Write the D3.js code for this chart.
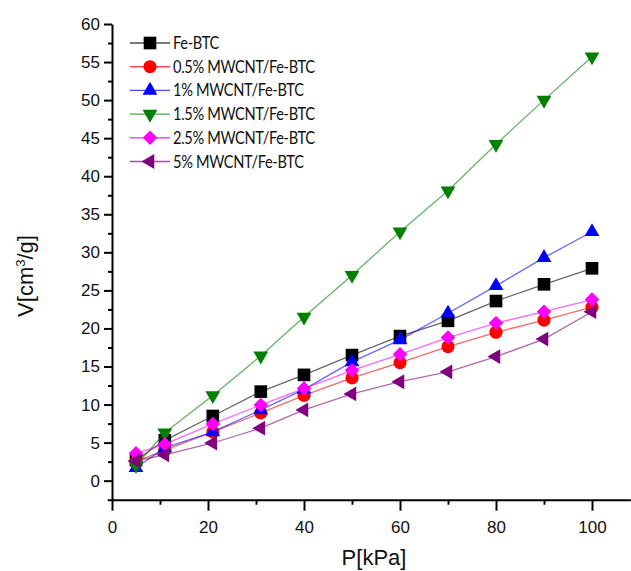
<!DOCTYPE html>
<html>
<head>
<meta charset="utf-8">
<script src="https://cdn.jsdelivr.net/npm/d3@7/dist/d3.min.js"></script>
<style>
  html, body { margin: 0; padding: 0; background: #fff; }
  svg { display: block; }
</style>
</head>
<body>
<svg id="chart" width="631" height="571"></svg>
<script>
// ---------- data ----------
const pressure = [5, 11, 21, 31, 40, 50, 60, 70, 80, 90, 100];
const seriesNames = ["Fe-BTC", "0.5% MWCNT/Fe-BTC", "1% MWCNT/Fe-BTC", "1.5% MWCNT/Fe-BTC", "2.5% MWCNT/Fe-BTC", "5% MWCNT/Fe-BTC"];
const feBTC      = [2.7, 5.3, 8.5, 11.7, 13.9, 16.5, 19.0, 21.0, 23.6, 25.8, 27.9];
const mwcnt05    = [2.5, 4.0, 6.4, 8.9, 11.2, 13.5, 15.5, 17.6, 19.5, 21.1, 22.8];
const mwcnt1     = [1.7, 4.3, 6.4, 9.3, 12.0, 15.6, 18.5, 22.0, 25.6, 29.3, 32.7];
const mwcnt15    = [2.0, 6.3, 11.2, 16.4, 21.5, 27.0, 32.7, 38.1, 44.2, 50.0, 55.7];
const mwcnt25    = [3.6, 4.8, 7.45, 9.95, 12.1, 14.5, 16.6, 18.8, 20.7, 22.2, 23.8];
const mwcnt5     = [2.6, 3.4, 4.95, 6.9, 9.3, 11.4, 13.0, 14.3, 16.3, 18.6, 22.2];
const seriesValues = [feBTC, mwcnt05, mwcnt1, mwcnt15, mwcnt25, mwcnt5];
const xMajorTicks = [0, 20, 40, 60, 80, 100];
const xMinorTicks = [10, 30, 50, 70, 90];
const yMajorTicks = [0, 5, 10, 15, 20, 25, 30, 35, 40, 45, 50, 55, 60];
const yMinorTicks = [2.5, 7.5, 12.5, 17.5, 22.5, 27.5, 32.5, 37.5, 42.5, 47.5, 52.5, 57.5];
const xTitle = "P[kPa]";

// ---------- styles ----------
const colors = ["#000000", "#ff0000", "#0000ff", "#008000", "#ff00ff", "#800080"];
const symbols = [
  { type: d3.symbolSquare, size: 160, rotate: 0 },
  { type: d3.symbolCircle, size: 135, rotate: 0 },
  { type: d3.symbolTriangle, size: 95, rotate: 0 },
  { type: d3.symbolTriangle, size: 95, rotate: 180 },
  { type: d3.symbolSquare, size: 105, rotate: 45 },
  { type: d3.symbolTriangle, size: 95, rotate: -90 }
];

const svg = d3.select("#chart");
const x = d3.scaleLinear().domain([-1, 108]).range([107.2, 630.4]);
const y = d3.scaleLinear().domain([-2.5, 60]).range([499.7, 24]);
const axisFont = "'Liberation Sans', Arial, sans-serif";

// ---------- axes ----------
const gx = svg.append("g").attr("transform", `translate(0,${y(-2.5)})`);
gx.call(d3.axisBottom(x).tickValues(xMajorTicks).tickSize(11).tickSizeOuter(0).tickPadding(10));
const gxm = svg.append("g").attr("transform", `translate(0,${y(-2.5)})`);
gxm.call(d3.axisBottom(x).tickValues(xMinorTicks).tickSize(5).tickSizeOuter(0).tickFormat(""));
gxm.select(".domain").remove();

const gy = svg.append("g").attr("transform", `translate(${x(0)},0)`);
gy.call(d3.axisLeft(y).tickValues(yMajorTicks).tickSize(8).tickSizeOuter(0).tickPadding(4));
const gym = svg.append("g").attr("transform", `translate(${x(0)},0)`);
gym.call(d3.axisLeft(y).tickValues(yMinorTicks).tickSize(4).tickSizeOuter(0).tickFormat(""));
gym.select(".domain").remove();

svg.selectAll(".domain, .tick line").attr("stroke", "#000").attr("stroke-width", 2);
svg.selectAll(".tick text").attr("font-family", axisFont).attr("font-size", 17).attr("fill", "#111");

// axis titles
svg.append("text")
  .attr("x", 374).attr("y", 565)
  .attr("text-anchor", "middle")
  .attr("font-family", axisFont).attr("font-size", 22).attr("fill", "#111")
  .text(xTitle);

const yt = svg.append("text")
  .attr("transform", "translate(33,276) rotate(-90)")
  .attr("text-anchor", "middle")
  .attr("font-family", axisFont).attr("font-size", 22).attr("fill", "#111");
yt.append("tspan").text("V[cm");
yt.append("tspan").attr("font-size", 13).attr("dy", -8).text("3");
yt.append("tspan").attr("dy", 8).text("/g]");

// ---------- series ----------
const line = d3.line().x((d, i) => x(pressure[i])).y(d => y(d));
seriesValues.forEach((vals, s) => {
  const g = svg.append("g");
  g.append("path")
    .attr("d", line(vals))
    .attr("fill", "none")
    .attr("stroke", colors[s])
    .attr("stroke-opacity", 0.6)
    .attr("stroke-width", 1.3);
  const sym = d3.symbol().type(symbols[s].type).size(symbols[s].size);
  g.selectAll("path.m").data(vals).enter().append("path")
    .attr("class", "m")
    .attr("d", sym())
    .attr("transform", (d, i) => `translate(${x(pressure[i])},${y(d)}) rotate(${symbols[s].rotate})`)
    .attr("fill", colors[s]);
});

// ---------- legend ----------
const legend = svg.append("g");
seriesNames.forEach((name, s) => {
  const ly = 43 + s * 23.7;
  legend.append("line")
    .attr("x1", 130).attr("x2", 170).attr("y1", ly).attr("y2", ly)
    .attr("stroke", colors[s]).attr("stroke-opacity", 0.7).attr("stroke-width", 1.4);
  const sym = d3.symbol().type(symbols[s].type).size(symbols[s].size);
  legend.append("path")
    .attr("d", sym())
    .attr("transform", `translate(150,${ly}) rotate(${symbols[s].rotate})`)
    .attr("fill", colors[s]);
  const t = legend.append("text")
    .attr("x", 173).attr("y", ly + 6)
    .attr("font-family", "Lato, 'Open Sans', sans-serif")
    .attr("font-size", 17)
    .attr("letter-spacing", -0.4)
    .attr("fill", "#111")
    .text(name);
  const len = t.node().getComputedTextLength();
  t.attr("textLength", len * 0.86).attr("lengthAdjust", "spacingAndGlyphs");
});
</script>
</body>
</html>
